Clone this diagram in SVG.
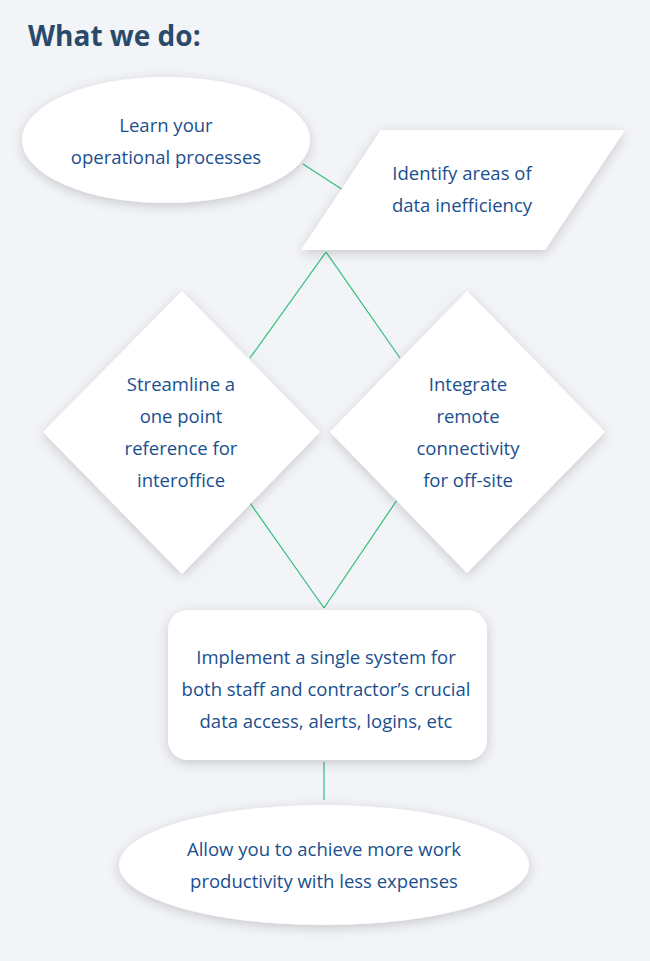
<svg xmlns="http://www.w3.org/2000/svg" width="650" height="961" viewBox="0 0 650 961">
<defs>
<style>
.n{fill:#fff;filter:url(#sh)}
.t{font-family:"Open Sans","Liberation Sans",sans-serif;font-size:18.5px;fill:#1a4f8f;text-anchor:middle}
.c{stroke:#2ec07a;stroke-width:1.2;fill:none}
</style>
<filter id="sh" x="-20%" y="-20%" width="140%" height="140%"><feDropShadow dx="0" dy="3" stdDeviation="6" flood-color="#000" flood-opacity="0.18"/></filter>
</defs>
<rect width="650" height="961" fill="#f2f4f8"/>
<text x="28" y="46" font-family="'Open Sans','Liberation Sans',sans-serif" font-size="28" font-weight="bold" fill="#2a4a6b">What we do:</text>
<g id="connectors">
<line class="c" x1="303" y1="164" x2="343" y2="190"/>
<line class="c" x1="326" y1="252" x2="250" y2="358"/>
<line class="c" x1="326" y1="252" x2="400" y2="358"/>
<line class="c" x1="250" y1="503" x2="324" y2="608"/>
<line class="c" x1="397" y1="500" x2="324" y2="608"/>
<line class="c" x1="324" y1="762" x2="324" y2="800"/>
</g>
<g id="n1"><ellipse class="n" cx="166" cy="140" rx="144" ry="63"/>
<text class="t" x="166" y="132">Learn your</text><text class="t" x="166" y="164">operational processes</text></g>
<g id="n2"><polygon class="n" points="381,130 625,130 545,250 301,250"/>
<text class="t" x="462" y="180">Identify areas of</text><text class="t" x="462" y="212">data inefficiency</text></g>
<g id="n3"><polygon class="n" points="182,291 320,432 182,574 43,432"/>
<text class="t" x="181" y="391">Streamline a</text><text class="t" x="181" y="423">one point</text><text class="t" x="181" y="455">reference for</text><text class="t" x="181" y="487">interoffice</text></g>
<g id="n4"><polygon class="n" points="467,291 605,432 467,573 330,432"/>
<text class="t" x="468" y="391">Integrate</text><text class="t" x="468" y="423">remote</text><text class="t" x="468" y="455">connectivity</text><text class="t" x="468" y="487">for off-site</text></g>
<g id="n5"><rect class="n" x="168" y="610" width="319" height="150" rx="20"/>
<text class="t" x="326" y="664">Implement a single system for</text><text class="t" x="326" y="696">both staff and contractor’s crucial</text><text class="t" x="326" y="728">data access, alerts, logins, etc</text></g>
<g id="n6"><ellipse class="n" cx="324" cy="865" rx="205" ry="60"/>
<text class="t" x="324" y="856">Allow you to achieve more work</text><text class="t" x="324" y="888">productivity with less expenses</text></g>
</svg>
